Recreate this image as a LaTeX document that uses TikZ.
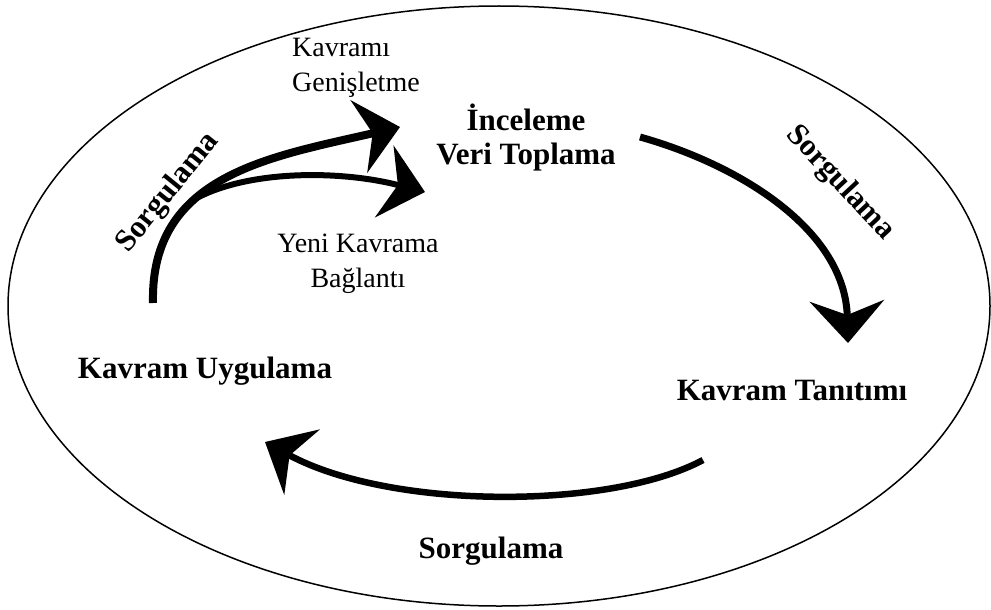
\documentclass[tikz,border=0pt]{standalone}
\usepackage{fontspec}
\setmainfont{Liberation Serif}
\usetikzlibrary{arrows.meta,positioning}

\tikzset{
  bigtext/.style={font=\fontsize{31}{34}\selectfont\bfseries, align=center, inner sep=0pt},
  smalltext/.style={font=\fontsize{28}{35}\selectfont, inner sep=0pt},
  cyclearrow/.style={line width=7pt, -{Stealth[length=42pt,width=74pt,inset=14pt]}}
}

\begin{document}
\begin{tikzpicture}[x=1pt,y=-1pt]
    \useasboundingbox (0,0) rectangle (991,610);
    \draw[line width=1.5pt] (499,306) ellipse [x radius=491, y radius=300];
    % stations of the cycle
    \node[bigtext] (inspect) at (526,138) {İnceleme\\Veri Toplama};
    \node[bigtext, anchor=base] (intro) at (792,400) {Kavram Tanıtımı};
    \node[bigtext, anchor=base] (apply) at (205,378) {Kavram Uygulama};
    \node[smalltext, align=left, anchor=west] (expand) at (292,68) {Kavramı\\Genişletme};
    \node[smalltext, align=center] (link) at (358,264) {Yeni Kavrama\\Bağlantı};
    % questioning labels
    \node[bigtext, anchor=base] (qbottom) at (491,558) {Sorgulama};
    \node[bigtext, rotate=51] (qleft) at (168,193) {Sorgulama};
    \node[bigtext, rotate=-47] (qright) at (840,183) {Sorgulama};
    % arrow ends
    \coordinate (rstart) at (640,137);
    \coordinate (rend) at (848,343);
    \coordinate (bstart) at (703,460);
    \coordinate (bend) at (265,442);
    \coordinate (lstart) at (153,303);
    \coordinate (lend) at (400,127);
    \coordinate (send) at (425,192);
    \draw[cyclearrow] (rstart) .. controls (740,165) and (845,230) .. (rend);
    \draw[cyclearrow, line width=6.5pt] (bstart) .. controls (610,510) and (390,510) .. (bend);
    \draw[cyclearrow, line width=8pt] (lstart) .. controls (150,175) and (270,157) .. (lend) coordinate[pos=0.38] (branch);
    \draw[cyclearrow, line width=6pt] (branch) .. controls (250,170) and (340,170) .. (send);
\end{tikzpicture}
\end{document}
